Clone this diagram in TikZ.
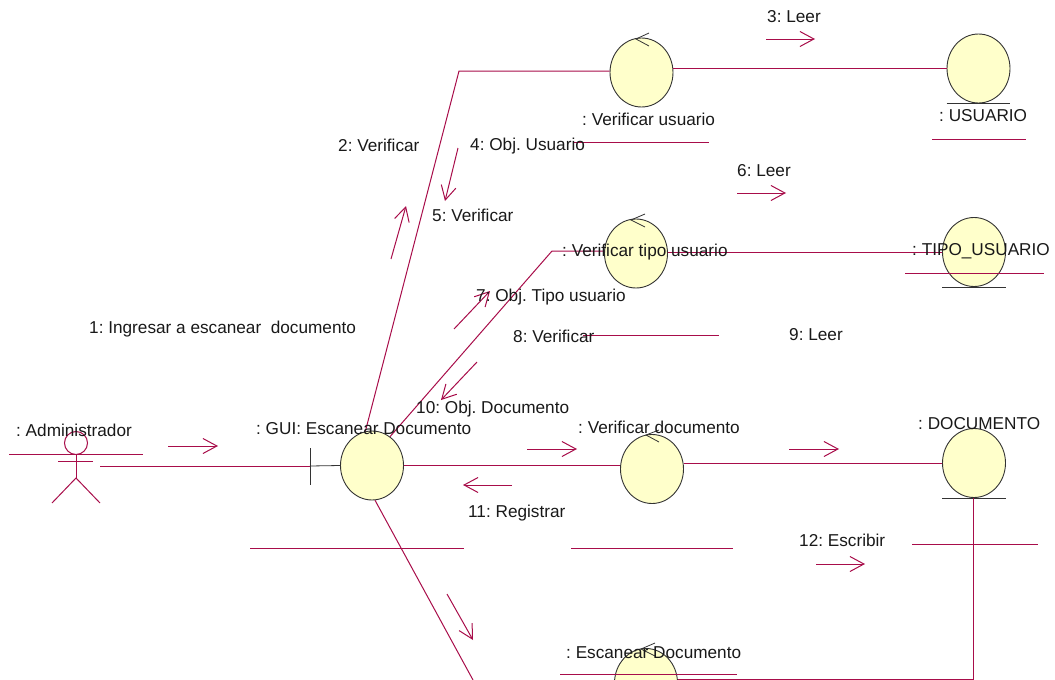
\documentclass[tikz,border=0pt]{standalone}
\usepackage{fontspec}
\setmainfont{Liberation Sans}
\usetikzlibrary{arrows.meta,shapes.geometric}
\definecolor{linkred}{HTML}{A80D4A}
\definecolor{objyellow}{HTML}{FFFFCB}
\tikzset{
    robust/.style={ellipse, draw=black!80, fill=objyellow, line width=0.9pt, inner sep=0pt, minimum width=63pt, minimum height=69pt},
    assoc/.style={draw=linkred, line width=1pt},
    msg/.style={draw=linkred, line width=1pt, -{Straight Barb[length=14pt,width=15pt,line width=1pt]}},
    glyph/.style={draw=black!80, line width=0.8pt},
    txt/.style={anchor=base west, inner sep=0pt, text=black!90, font=\fontsize{17.2}{20}\selectfont}
}

\begin{document}
\frenchspacing
\begin{tikzpicture}[x=1pt, y=-1pt]
    \useasboundingbox (0,0) rectangle (1055,680);
    \clip (0,0) rectangle (1055,680);

    \node[robust] (guiScan) at (372,465.5) {};
    \node[robust] (checkUser) at (641.5,72.5) {};
    \node[robust] (checkType) at (636,253.5) {};
    \node[robust] (checkDoc) at (652,469) {};
    \node[robust] (scanDoc) at (646,683) {};
    \node[robust] (tblUser) at (978.5,68.5) {};
    \node[robust] (tblType) at (974,252) {};
    \node[robust] (tblDoc) at (974,463) {};

    % control and entity marks
    \coordinate (userTip) at (636,39); \coordinate (userUp) at (649,33); \coordinate (userDn) at (649,46);
    \draw[glyph] (userUp) -- (userTip) -- (userDn);
    \coordinate (typeTip) at (631,220); \coordinate (typeUp) at (645,214); \coordinate (typeDn) at (645,227);
    \draw[glyph] (typeUp) -- (typeTip) -- (typeDn);
    \coordinate (docTip) at (646,435); \coordinate (docUp) at (659,430); \coordinate (docDn) at (659,442);
    \draw[glyph] (docUp) -- (docTip) -- (docDn);
    \coordinate (scanTip) at (641,649); \coordinate (scanUp) at (655,643); \coordinate (scanDn) at (655,656);
    \draw[glyph] (scanUp) -- (scanTip) -- (scanDn);
    \draw[glyph] (tblUser.west |- tblUser.south) -- (tblUser.east |- tblUser.south);
    \draw[glyph] (tblType.west |- tblType.south) -- (tblType.east |- tblType.south);
    \draw[glyph] (tblDoc.west |- tblDoc.south) -- (tblDoc.east |- tblDoc.south);

    % boundary
    \coordinate (bndTop) at (310,448); \coordinate (bndMid) at (310,466); \coordinate (bndBot) at (310,485);
    \draw[glyph] (bndTop) -- (bndBot);
    \draw[glyph] (bndMid) -- (guiScan.west);

    % actor
    \node[circle, assoc, minimum size=23pt, inner sep=0pt] (admHead) at (76,443) {};
    \coordinate (admHip) at (76,478); \coordinate (admArmL) at (58,461); \coordinate (admArmR) at (93,461);
    \coordinate (admLegL) at (52,503); \coordinate (admLegR) at (100,503);
    \draw[assoc] (admHead.south) -- (admHip);
    \draw[assoc] (admArmL) -- (admArmR);
    \draw[assoc] (admLegL) -- (admHip) -- (admLegR);

    % links
    \coordinate (admOut) at (100,466);
    \draw[assoc] (admOut) -- (bndMid);
    \coordinate (bendUser) at (459,71);
    \draw[assoc] (guiScan.101) -- (bendUser) -- (bendUser -| checkUser.west);
    \draw[assoc] (checkUser.east |- tblUser.west) -- (tblUser.west);
    \coordinate (bendType) at (552,251);
    \draw[assoc] (guiScan.58) -- (bendType) -- (bendType -| checkType.west);
    \draw[assoc] (checkType.east |- tblType.west) -- (tblType.west);
    \draw[assoc] (guiScan.east) -- (guiScan.east -| checkDoc.west);
    \draw[assoc] (checkDoc.east |- tblDoc.west) -- (tblDoc.west);
    \coordinate (bendDoc) at (973,679);
    \draw[assoc] (tblDoc.south -| bendDoc) -- (bendDoc) -- (bendDoc -| scanDoc.east);
    \coordinate (guiDown) at (473,680);
    \draw[assoc] (guiScan.-85) -- (guiDown);

    % underlines
    \coordinate (ulAdmA) at (9,454); \coordinate (ulAdmB) at (143,454);
    \draw[assoc] (ulAdmA) -- (ulAdmB);
    \coordinate (ulUserA) at (573,142); \coordinate (ulUserB) at (709,142);
    \draw[assoc] (ulUserA) -- (ulUserB);
    \coordinate (ulTblUserA) at (932,139); \coordinate (ulTblUserB) at (1026,139);
    \draw[assoc] (ulTblUserA) -- (ulTblUserB);
    \coordinate (ulTblTypeA) at (905,273); \coordinate (ulTblTypeB) at (1044,273);
    \draw[assoc] (ulTblTypeA) -- (ulTblTypeB);
    \coordinate (ulEightA) at (583,335); \coordinate (ulEightB) at (719,335);
    \draw[assoc] (ulEightA) -- (ulEightB);
    \coordinate (ulGuiA) at (250,548); \coordinate (ulGuiB) at (464,548);
    \draw[assoc] (ulGuiA) -- (ulGuiB);
    \coordinate (ulDocA) at (571,548); \coordinate (ulDocB) at (733,548);
    \draw[assoc] (ulDocA) -- (ulDocB);
    \coordinate (ulTblDocA) at (912,544); \coordinate (ulTblDocB) at (1038,544);
    \draw[assoc] (ulTblDocA) -- (ulTblDocB);
    \coordinate (ulScanA) at (560,674); \coordinate (ulScanB) at (737,674);
    \draw[assoc] (ulScanA) -- (ulScanB);

    % message arrows
    \coordinate (mOneA) at (168,446); \coordinate (mOneB) at (218,446);
    \draw[msg] (mOneA) -- (mOneB);
    \coordinate (mTwoA) at (391,259); \coordinate (mTwoB) at (406,206);
    \draw[msg] (mTwoA) -- (mTwoB);
    \coordinate (mThreeA) at (766,39); \coordinate (mThreeB) at (815,39);
    \draw[msg] (mThreeA) -- (mThreeB);
    \coordinate (mFourA) at (458,148); \coordinate (mFourB) at (445,201);
    \draw[msg] (mFourA) -- (mFourB);
    \coordinate (mSixA) at (737,193); \coordinate (mSixB) at (786,193);
    \draw[msg] (mSixA) -- (mSixB);
    \coordinate (mSevenA) at (454,329); \coordinate (mSevenB) at (490,291);
    \draw[msg] (mSevenA) -- (mSevenB);
    \coordinate (mEightA) at (477,362); \coordinate (mEightB) at (441,400);
    \draw[msg] (mEightA) -- (mEightB);
    \coordinate (mDocA) at (527,449); \coordinate (mDocB) at (577,449);
    \draw[msg] (mDocA) -- (mDocB);
    \coordinate (mLeerA) at (789,449); \coordinate (mLeerB) at (839,449);
    \draw[msg] (mLeerA) -- (mLeerB);
    \coordinate (mRegA) at (512,485); \coordinate (mRegB) at (463,485);
    \draw[msg] (mRegA) -- (mRegB);
    \coordinate (mWriteA) at (816,564); \coordinate (mWriteB) at (865,564);
    \draw[msg] (mWriteA) -- (mWriteB);
    \coordinate (mScanA) at (447,594); \coordinate (mScanB) at (473,640);
    \draw[msg] (mScanA) -- (mScanB);

    % labels
    \node[txt] (lblAdm) at (16,436) {: Administrador};
    \node[txt] (lblGui) at (256,434) {: GUI: Escanear Documento};
    \node[txt] (lblUser) at (582,125) {: Verificar usuario};
    \node[txt] (lblType) at (562,256) {: Verificar tipo usuario};
    \node[txt] (lblDoc) at (578,433) {: Verificar documento};
    \node[txt] (lblScan) at (566,658) {: Escanear Documento};
    \node[txt] (lblTblUser) at (939,121) {: USUARIO};
    \node[txt] (lblTblType) at (912,255) {: TIPO\_USUARIO};
    \node[txt] (lblTblDoc) at (918,429) {: DOCUMENTO};
    \node[txt] (txtOne) at (89,333) {1: Ingresar a escanear\ \ documento};
    \node[txt] (txtTwo) at (338,151) {2: Verificar};
    \node[txt] (txtThree) at (767,22) {3: Leer};
    \node[txt] (txtFour) at (470,150) {4: Obj. Usuario};
    \node[txt] (txtFive) at (432,221) {5: Verificar};
    \node[txt] (txtSix) at (737,176) {6: Leer};
    \node[txt] (txtSeven) at (476,301) {7: Obj. Tipo usuario};
    \node[txt] (txtEight) at (513,342) {8: Verificar};
    \node[txt] (txtNine) at (789,340) {9: Leer};
    \node[txt] (txtTen) at (416,413) {10: Obj. Documento};
    \node[txt] (txtEleven) at (468,517) {11: Registrar};
    \node[txt] (txtTwelve) at (799,546) {12: Escribir};
\end{tikzpicture}
\end{document}
